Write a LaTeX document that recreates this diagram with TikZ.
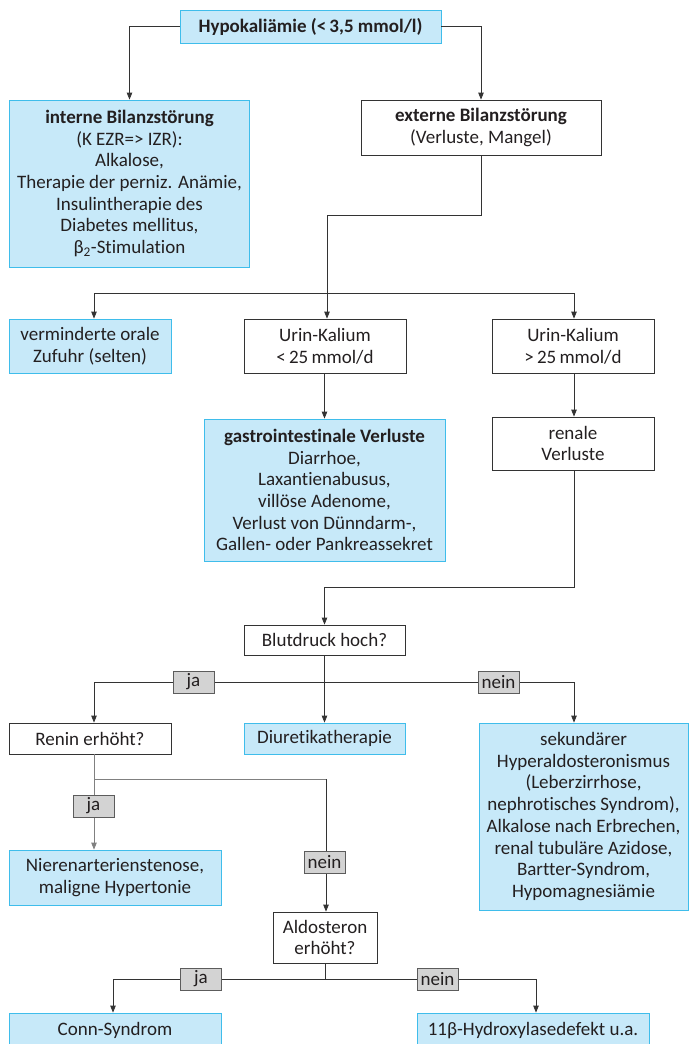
\documentclass[tikz,border=0pt]{standalone}
\usepackage{fontspec}
\setmainfont{Carlito}[Ligatures=NoCommon]
\usepackage{tikz}
\usetikzlibrary{arrows.meta}
\definecolor{cyanfill}{HTML}{C7E9F9}
\definecolor{cyanline}{HTML}{3FBDEB}
\definecolor{linegray}{HTML}{333333}
\definecolor{tagfill}{HTML}{D3D3D3}
\definecolor{textgray}{HTML}{231F20}
\newcommand{\boxfont}[0]{\fontsize{19}{21.7}\selectfont}

\begin{document}
\begin{tikzpicture}[x=1pt, y=-1pt, text=textgray]
  \tikzset{
    box/.style={draw=linegray, line width=0.8pt, align=center, inner sep=0pt, font=\boxfont},
    bluebox/.style={box, draw=cyanline, fill=cyanfill},
    tag/.style={draw=linegray!80, fill=tagfill, line width=0.6pt, inner sep=0pt,
      minimum width=41pt, minimum height=22pt, font=\boxfont},
    arr/.style={draw=linegray, line width=0.8pt, -{Triangle[length=7pt,width=5.5pt]}},
    plain/.style={draw=linegray, line width=0.8pt}
  }
  \useasboundingbox (0,0) rectangle (688,1044);

  % columns of the arrows
  \coordinate (colL) at (94,0);
  \coordinate (colR) at (574,0);

  \node[bluebox, minimum width=261pt, minimum height=33pt] (hypo) at (310.5,26.5)
    {\textbf{Hypokaliämie (<\,3,5 mmol/l)}};
  \node[bluebox, minimum width=240pt, minimum height=167pt] (intern) at (129.5,183.5)
    {\textbf{interne Bilanzstörung}\\(K EZR=> IZR):\\Alkalose,\\Therapie der perniz. Anämie,\\
     Insulintherapie des\\Diabetes mellitus,\\β\textsubscript{2}-Stimulation};
  \node[box, minimum width=240pt, minimum height=55pt] (extern) at (481,127.5)
    {\textbf{externe Bilanzstörung}\\(Verluste, Mangel)};

  \node[bluebox, minimum width=162pt, minimum height=54pt] (oral) at (90,346)
    {verminderte orale\\Zufuhr (selten)};
  \node[box, minimum width=162pt, minimum height=54pt] (urinlow) at (325,346)
    {Urin-Kalium\\<\,25\,mmol/d};
  \node[box, minimum width=162pt, minimum height=54pt] (urinhigh) at (573,346)
    {Urin-Kalium\\>\,25\,mmol/d};
  \node[bluebox, minimum width=241pt, minimum height=142pt] (gastro) at (324.5,490)
    {\textbf{gastrointestinale Verluste}\\Diarrhoe,\\Laxantienabusus,\\villöse Adenome,\\
     Verlust von Dünndarm-,\\Gallen- oder Pankreassekret};
  \node[box, minimum width=162pt, minimum height=53pt] (renal) at (573,443.5)
    {renale\\Verluste};

  \node[box, minimum width=161pt, minimum height=30pt] (rr) at (324.5,640) {Blutdruck hoch?};
  \node[box, minimum width=162pt, minimum height=31pt] (renin) at (90,738.5) {Renin erhöht?};
  \node[bluebox, minimum width=161pt, minimum height=31pt] (diuret) at (324.5,738.5)
    {Diuretikatherapie};
  \node[bluebox, minimum width=209pt, minimum height=187pt] (sekund) at (583.5,816.5)
    {sekundärer\\Hyperaldosteronismus\\(Leberzirrhose,\\nephrotisches Syndrom),\\
     Alkalose nach Erbrechen,\\renal tubuläre Azidose,\\Bartter-Syndrom,\\Hypomagnesiämie};
  \node[bluebox, minimum width=212pt, minimum height=55pt] (stenose) at (115,877.5)
    {Nierenarterienstenose,\\maligne Hypertonie};
  \node[box, minimum width=104pt, minimum height=51pt] (aldo) at (325,937.5)
    {Aldosteron\\erhöht?};
  \node[bluebox, minimum width=212pt, minimum height=35pt] (conn) at (115,1030.5)
    {Conn-Syndrom};
  \node[bluebox, minimum width=232pt, minimum height=35pt] (hydrox) at (533,1030.5)
    {11β-Hydroxylasedefekt u.a.};

  % branch points
  \coordinate (splitA) at (327,293);
  \coordinate (splitB) at (325,682);
  \coordinate (splitC) at (94,779);
  \coordinate (splitD) at (325,979);

  \draw[arr] (hypo.west) -| (intern.north);
  \draw[arr] (hypo.east) -| (extern.north);
  \draw[plain] (extern.south) -- (481,215) -| (splitA);
  \draw[arr] (splitA) -- (urinlow.north -| splitA);
  \draw[arr] (splitA) -| (oral.north -| colL);
  \draw[arr] (splitA) -| (urinhigh.north -| colR);
  \draw[arr] (urinlow.south -| gastro) -- (gastro.north);
  \draw[arr] (urinhigh.south -| colR) -- (renal.north -| colR);
  \draw[arr] (renal.south -| colR) -- (574,587) -| (rr.north);

  \draw[arr] (rr.south) -- (diuret.north);
  \draw[arr] (splitB) -| (renin.north -| colL);
  \draw[arr] (splitB) -| (sekund.north -| colR);

  \draw[draw=gray, line width=0.8pt] (renin.south -| colL) -- (splitC) -- (326,779);
  \draw[arr, draw=gray] (splitC) -- (stenose.north -| colL);
  \draw[arr] (326,779) -- (aldo.north -| 326,0);

  \draw[plain] (aldo.south) -- (splitD);
  \draw[arr] (splitD) -| (conn.north -| 113,0);
  \draw[arr] (splitD) -| (hydrox.north -| 536,0);

  \node[tag] (ja1) at (193.5,682) {ja};
  \node[tag] (nein1) at (498.5,682) {nein};
  \node[tag] (ja2) at (93.5,806) {ja};
  \node[tag] (nein2) at (324.5,862) {nein};
  \node[tag] (ja3) at (201,979) {ja};
  \node[tag] (nein3) at (437.5,979) {nein};
\end{tikzpicture}
\end{document}
